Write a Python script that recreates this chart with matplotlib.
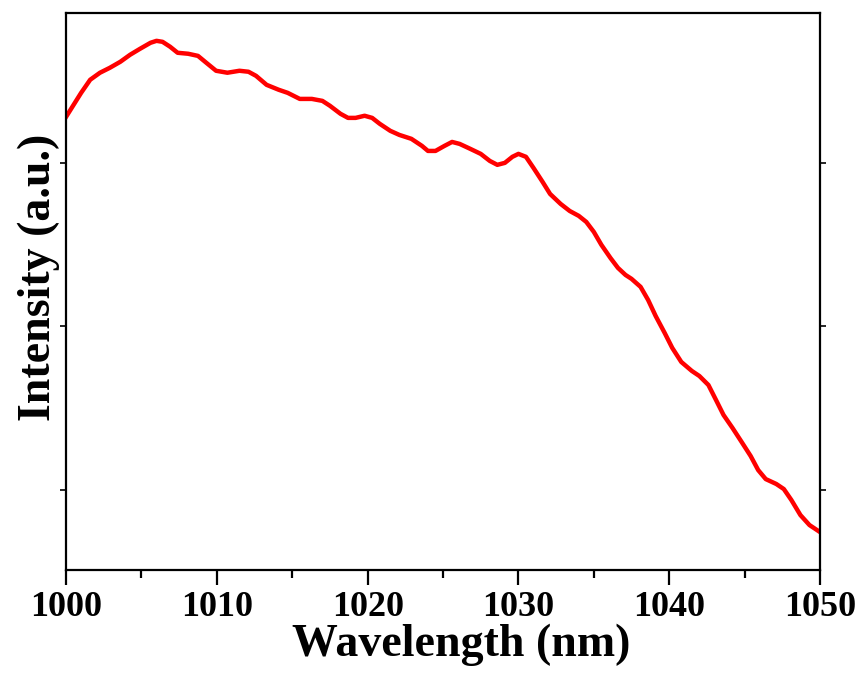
import matplotlib
matplotlib.use("Agg")
import matplotlib.pyplot as plt
import numpy as np

# spectrum (intensity in arbitrary units)
wavelength = [1000.0, 1001.0, 1001.6, 1002.25, 1002.9, 1003.6, 1004.25, 1004.9, 1005.6, 1006.0,
              1006.4, 1006.9, 1007.4, 1008.1, 1008.75, 1009.3, 1009.95, 1010.7, 1011.5, 1012.1,
              1012.6, 1013.3, 1014.1, 1014.7, 1015.5, 1016.3, 1017.0, 1017.5, 1018.2, 1018.7,
              1019.2, 1019.8, 1020.3, 1020.8, 1021.5, 1022.1, 1022.9, 1023.6, 1024.0, 1024.5,
              1025.1, 1025.6, 1026.1, 1026.8, 1027.5, 1028.1, 1028.6, 1029.1, 1029.6, 1030.0,
              1030.5, 1031.0, 1031.6, 1032.1, 1032.8, 1033.4, 1034.0, 1034.5, 1035.0, 1035.5,
              1036.1, 1036.6, 1037.1, 1037.5, 1038.1, 1038.6, 1039.1, 1039.7, 1040.2, 1040.8,
              1041.5, 1042.0, 1042.6, 1043.1, 1043.6, 1044.2, 1044.8, 1045.4, 1045.9, 1046.4,
              1047.1, 1047.6, 1048.1, 1048.7, 1049.3, 1050.0]
intensity = [3.281, 3.428, 3.508, 3.551, 3.581, 3.618, 3.661, 3.697, 3.734, 3.746,
             3.740, 3.710, 3.673, 3.667, 3.654, 3.612, 3.563, 3.551, 3.563, 3.557,
             3.532, 3.477, 3.447, 3.428, 3.391, 3.391, 3.379, 3.349, 3.300, 3.275,
             3.275, 3.288, 3.275, 3.239, 3.196, 3.171, 3.147, 3.104, 3.073, 3.073,
             3.104, 3.128, 3.116, 3.086, 3.055, 3.012, 2.988, 3.000, 3.037, 3.055,
             3.037, 2.969, 2.884, 2.810, 2.749, 2.706, 2.676, 2.639, 2.578, 2.499,
             2.419, 2.358, 2.315, 2.291, 2.242, 2.162, 2.064, 1.960, 1.869, 1.783,
             1.728, 1.697, 1.642, 1.551, 1.459, 1.379, 1.294, 1.208, 1.122, 1.067,
             1.037, 1.006, 0.939, 0.847, 0.786, 0.743]

plt.rcParams['font.family'] = ['Liberation Serif', 'DejaVu Serif']
plt.rcParams['font.weight'] = 'bold'

fig = plt.figure(figsize=(8.61, 6.77), dpi=100)
ax = fig.add_axes([0.0767, 0.158, 0.8757, 0.823])

ax.plot(wavelength, intensity, color='#ff0000', lw=3.2)

ax.set_xlim(1000, 1050)
ax.set_ylim(0.511, 3.917)
ax.set_xticks(np.arange(1000, 1051, 10))
ax.set_xticks(np.arange(1005, 1050, 10), minor=True)
ax.set_yticks([1, 2, 3])
ax.set_yticklabels([])

for s in ax.spines.values():
    s.set_linewidth(1.6)

ax.tick_params(axis='x', which='major', length=11, width=1.6, labelsize=26, pad=4)
ax.tick_params(axis='x', which='minor', length=6, width=1.6)
ax.tick_params(axis='y', which='major', length=4, width=1.2, right=True)

ax.set_xlabel('Wavelength (nm)', fontsize=33, fontweight='bold')
ax.set_ylabel('Intensity (a.u.)', fontsize=33, fontweight='bold')
ax.xaxis.set_label_coords(0.524, -0.097)
ax.yaxis.set_label_coords(-0.008, 0.526)

fig.savefig('out.png', dpi=100)
